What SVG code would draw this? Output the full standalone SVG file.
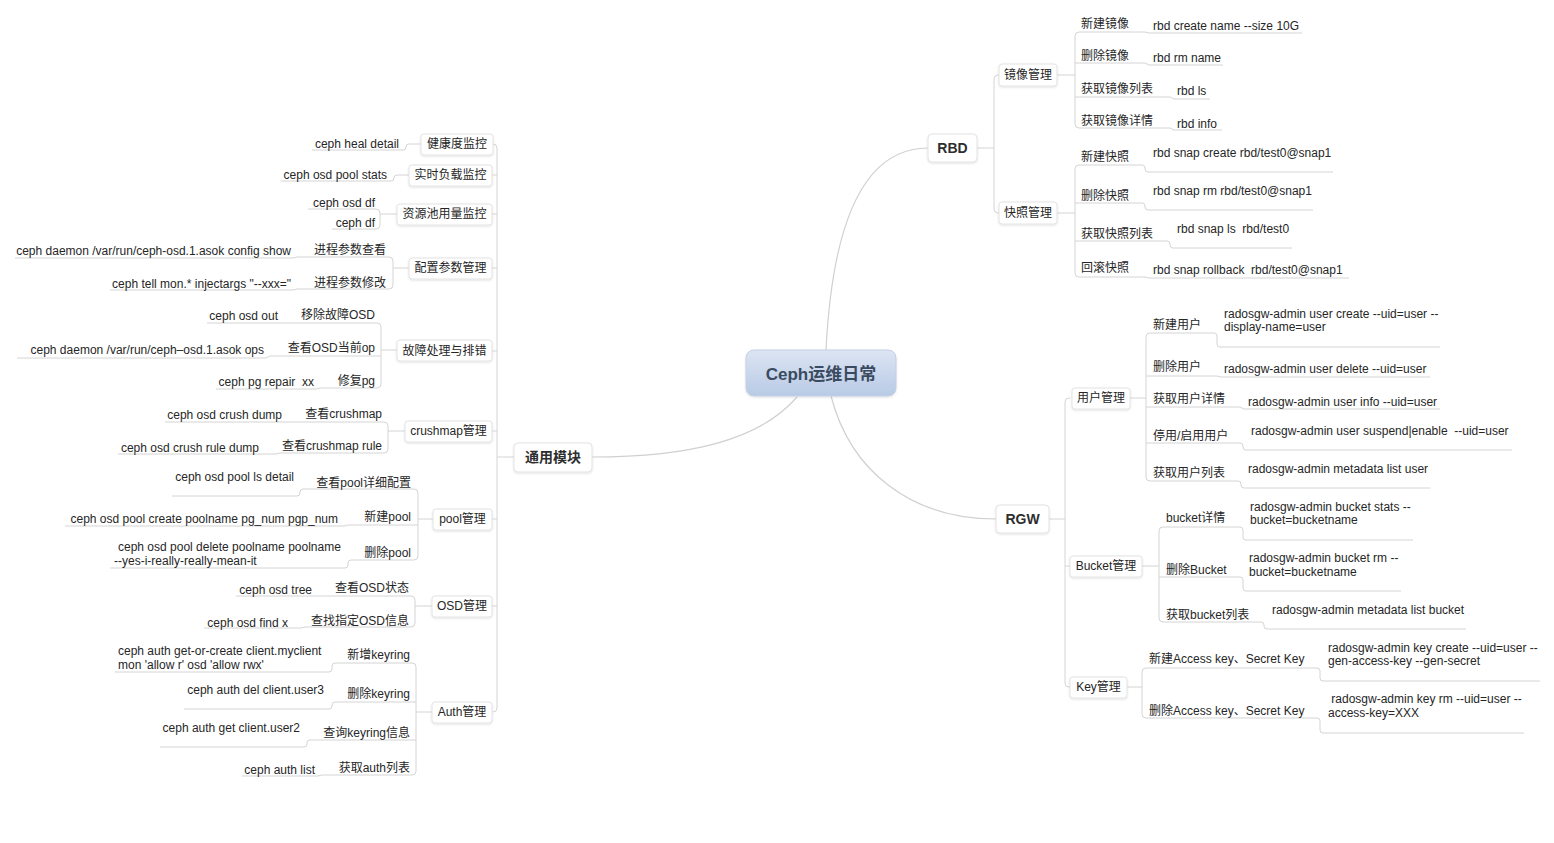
<svg xmlns="http://www.w3.org/2000/svg" width="1554" height="843" viewBox="0 0 1554 843">
<defs>
<style>
text{font-family:"Liberation Sans","Noto Sans CJK SC",sans-serif;font-size:12px;fill:#262626;white-space:pre}
.e{text-anchor:end}
.m{text-anchor:middle}
.b{font-size:14px;font-weight:bold;text-anchor:middle;fill:#2e2e2e}
.box{fill:#fff;stroke:#e3e3e3;stroke-width:1;filter:url(#sh)}
.ln{fill:none;stroke:#d4d4d4;stroke-width:1}
.main{fill:none;stroke:#d0d0d0;stroke-width:1.2}
</style>
<linearGradient id="cg" x1="0" y1="0" x2="0" y2="1">
<stop offset="0" stop-color="#dce5f3"/>
<stop offset="1" stop-color="#b8cae5"/>
</linearGradient>
<filter id="sh" x="-10%" y="-20%" width="120%" height="150%">
<feDropShadow dx="0" dy="1" stdDeviation="1" flood-color="#000" flood-opacity="0.12"/>
</filter>
</defs>
<rect width="1554" height="843" fill="#fff"/>

<g id="connectors">
<path class="main" d="M826,350 C832,230 860,148 928,148"/>
<path class="main" d="M831,396 C850,470 910,519 996,519"/>
<path class="main" d="M797,397 C760,440 690,457 592,457"/>
<!-- RBD trunk -->
<path class="ln" d="M977,148 H994 M999,75 H998 Q994,75 994,79 V209 Q994,213 998,213 H999"/>
<!-- 镜像管理 -->
<path class="ln" d="M1057,75 H1075 M1079,32 Q1075,32 1075,36 V124 Q1075,128 1079,128"/>
<path class="ln" d="M1079,32 H1145 L1149,33 H1302"/>
<path class="ln" d="M1075,63 H1145 L1149,65 H1223"/>
<path class="ln" d="M1075,97 H1170 L1174,99 H1210"/>
<path class="ln" d="M1079,128 H1170 L1174,130 H1222"/>
<!-- 快照管理 -->
<path class="ln" d="M1057,213 H1075 M1079,165 Q1075,165 1075,169 V273 Q1075,277 1079,277"/>
<path class="ln" d="M1079,165 H1142 Q1145,165 1145,168 V169 Q1145,172 1148,172 H1333"/>
<path class="ln" d="M1075,203 H1142 Q1145,203 1145,206 V207 Q1145,210 1148,210 H1313"/>
<path class="ln" d="M1075,241 H1167 Q1170,241 1170,244 V245 Q1170,248 1173,248 H1292"/>
<path class="ln" d="M1079,277 H1145 L1149,278 H1349"/>
<!-- RGW trunk -->
<path class="ln" d="M1049,519 H1065 M1070,398 H1069 Q1065,398 1065,402 V683 Q1065,687 1069,687 H1070 M1065,566 H1070"/>
<!-- 用户管理 -->
<path class="ln" d="M1130,398 H1146 M1150,333 Q1146,333 1146,337 V477 Q1146,481 1150,481"/>
<path class="ln" d="M1150,333 H1214 Q1217,333 1217,336 V344 Q1217,347 1220,347 H1440"/>
<path class="ln" d="M1146,376 H1217 L1221,377 H1430"/>
<path class="ln" d="M1146,407 H1240 L1244,409 H1440"/>
<path class="ln" d="M1146,443 H1240 Q1243,443 1243,446 V447 Q1243,450 1246,450 H1512"/>
<path class="ln" d="M1150,481 H1238 Q1241,481 1241,484 V485 Q1241,488 1244,488 H1430"/>
<!-- Bucket管理 -->
<path class="ln" d="M1142,566 H1159 M1163,527 Q1159,527 1159,531 V618 Q1159,622 1163,622"/>
<path class="ln" d="M1163,527 H1240 Q1243,527 1243,530 V537 Q1243,540 1246,540 H1413"/>
<path class="ln" d="M1159,577 H1240 Q1243,577 1243,580 V588 Q1243,591 1246,591 H1401"/>
<path class="ln" d="M1163,622 H1261 Q1264,622 1264,625 V626 Q1264,629 1267,629 H1466"/>
<!-- Key管理 -->
<path class="ln" d="M1127,687 H1142 M1146,668 Q1142,668 1142,672 V714 Q1142,718 1146,718"/>
<path class="ln" d="M1146,668 H1317 Q1320,668 1320,671 V678 Q1320,681 1323,681 H1540"/>
<path class="ln" d="M1146,718 H1317 Q1320,718 1320,721 V730 Q1320,733 1323,733 H1524"/>
<!-- left trunk -->
<path class="ln" d="M514,457 H497 M493,144 Q497,144 497,148 V708 Q497,712 493,712 M492,175 H497 M492,214 H497 M492,268 H497 M492,351 H497 M492,431 H497 M492,519 H497 M492,606 H497"/>
<!-- 健康度监控 / 实时负载监控 -->
<path class="ln" d="M421,144 H409 Q406,144 406,147 Q406,150 403,150 H312"/>
<path class="ln" d="M409,175 H397 Q394,175 394,178 Q394,181 391,181 H281"/>
<!-- 资源池用量监控 -->
<path class="ln" d="M397,214 H380 M376,209 Q380,209 380,213 V225 Q380,229 376,229"/>
<path class="ln" d="M376,209 H308"/>
<path class="ln" d="M376,229 H332"/>
<!-- 配置参数管理 -->
<path class="ln" d="M409,268 H393 M389,257 Q393,257 393,261 V285 Q393,289 389,289"/>
<path class="ln" d="M389,257 H297 L293,258 H15"/>
<path class="ln" d="M389,289 H297 L293,290 H110"/>
<!-- 故障处理与排错 -->
<path class="ln" d="M397,350 H381 M377,323 Q381,323 381,327 V384 Q381,388 377,388"/>
<path class="ln" d="M377,323 H207"/>
<path class="ln" d="M381,356 H270 L266,358 H17"/>
<path class="ln" d="M377,388 H320 L316,389 H216"/>
<!-- crushmap管理 -->
<path class="ln" d="M405,431 H388 M384,422 Q388,422 388,426 V449 Q388,453 384,453"/>
<path class="ln" d="M384,422 H165"/>
<path class="ln" d="M384,453 H280 L276,454 H118"/>
<!-- pool管理 -->
<path class="ln" d="M433,519 H418 M414,489 Q418,489 418,493 V556 Q418,560 414,560"/>
<path class="ln" d="M414,489 H303 Q300,489 300,492 V493 Q300,496 297,496 H172"/>
<path class="ln" d="M418,525 H348 L344,526 H65"/>
<path class="ln" d="M414,560 H351 Q348,560 348,563 V565 Q348,568 345,568 H110"/>
<!-- OSD管理 -->
<path class="ln" d="M432,606 H415 M411,596 Q415,596 415,600 V623 Q415,627 411,627"/>
<path class="ln" d="M411,596 H236"/>
<path class="ln" d="M411,627 H305 L301,628 H204"/>
<!-- Auth管理 -->
<path class="ln" d="M432,712 H416 M412,663 Q416,663 416,667 V771 Q416,775 412,775"/>
<path class="ln" d="M412,663 H335 Q332,663 332,666 V669 Q332,672 329,672 H115"/>
<path class="ln" d="M416,702 H335 Q332,702 332,705 V706 Q332,709 329,709 H184"/>
<path class="ln" d="M416,740 H310 Q307,740 307,743 V744 Q307,747 304,747 H160"/>
<path class="ln" d="M412,775 H322 L318,776 H242"/>
</g>

<!-- central -->
<g id="root">
<rect x="746" y="350" width="150" height="46" rx="8" fill="url(#cg)" stroke="#c3d0e3" filter="url(#sh)"/>
<text x="821" y="380" style="font-size:17px;font-weight:bold;text-anchor:middle;fill:#3a4a5f">Ceph运维日常</text>
</g>

<!-- main branches -->
<g id="rbd"><rect class="box" x="928" y="134" width="49" height="28" rx="4"/><text class="b" x="952.5" y="153">RBD</text></g>
<g id="rgw"><rect class="box" x="996" y="505" width="53" height="28" rx="4"/><text class="b" x="1022.5" y="524">RGW</text></g>
<g id="common"><rect class="box" x="514" y="443" width="78" height="29" rx="4"/><text class="b" x="553" y="462">通用模块</text></g>

<!-- RBD children -->
<g id="rbd-image"><rect class="box" x="999" y="64" width="58" height="22" rx="3"/><text class="m" x="1028" y="79">镜像管理</text></g>
<g id="rbd-snap"><rect class="box" x="999" y="202" width="58" height="22" rx="3"/><text class="m" x="1028" y="217">快照管理</text></g>

<g id="img-create"><text x="1081" y="28">新建镜像</text><text x="1153" y="30">rbd create name --size 10G</text></g>
<g id="img-rm"><text x="1081" y="60">删除镜像</text><text x="1153" y="62">rbd rm name</text></g>
<g id="img-ls"><text x="1081" y="93">获取镜像列表</text><text x="1177" y="95">rbd ls</text></g>
<g id="img-info"><text x="1081" y="125">获取镜像详情</text><text x="1177" y="128">rbd info</text></g>

<g id="snap-create"><text x="1081" y="161">新建快照</text><text x="1153" y="157">rbd snap create rbd/test0@snap1</text></g>
<g id="snap-rm"><text x="1081" y="200">删除快照</text><text x="1153" y="195">rbd snap rm rbd/test0@snap1</text></g>
<g id="snap-ls"><text x="1081" y="238">获取快照列表</text><text x="1177" y="233">rbd snap ls  rbd/test0</text></g>
<g id="snap-rollback"><text x="1081" y="272">回滚快照</text><text x="1153" y="274">rbd snap rollback  rbd/test0@snap1</text></g>

<!-- RGW children -->
<g id="rgw-user"><rect class="box" x="1072" y="388" width="58" height="21" rx="3"/><text class="m" x="1101" y="402">用户管理</text></g>
<g id="rgw-bucket"><rect class="box" x="1070" y="556" width="72" height="21" rx="3"/><text class="m" x="1106" y="570">Bucket管理</text></g>
<g id="rgw-key"><rect class="box" x="1070" y="677" width="57" height="21" rx="3"/><text class="m" x="1098.5" y="691">Key管理</text></g>

<g id="user-create"><text x="1153" y="329">新建用户</text><text x="1224" y="318">radosgw-admin user create --uid=user --</text><text x="1224" y="331">display-name=user</text></g>
<g id="user-delete"><text x="1153" y="371">删除用户</text><text x="1224" y="373">radosgw-admin user delete --uid=user</text></g>
<g id="user-info"><text x="1153" y="403">获取用户详情</text><text x="1248" y="406">radosgw-admin user info --uid=user</text></g>
<g id="user-suspend"><text x="1153" y="440">停用/启用用户</text><text x="1251" y="435">radosgw-admin user suspend|enable  --uid=user</text></g>
<g id="user-list"><text x="1153" y="477">获取用户列表</text><text x="1248" y="473">radosgw-admin metadata list user</text></g>

<g id="bucket-stats"><text x="1166" y="522">bucket详情</text><text x="1250" y="511">radosgw-admin bucket stats --</text><text x="1250" y="524">bucket=bucketname</text></g>
<g id="bucket-rm"><text x="1166" y="574">删除Bucket</text><text x="1249" y="562">radosgw-admin bucket rm --</text><text x="1249" y="576">bucket=bucketname</text></g>
<g id="bucket-list"><text x="1166" y="619">获取bucket列表</text><text x="1272" y="614">radosgw-admin metadata list bucket</text></g>

<g id="key-create"><text x="1149" y="663">新建Access key、Secret Key</text><text x="1328" y="652">radosgw-admin key create --uid=user --</text><text x="1328" y="665">gen-access-key --gen-secret</text></g>
<g id="key-rm"><text x="1149" y="715">删除Access key、Secret Key</text><text x="1328" y="703"> radosgw-admin key rm --uid=user --</text><text x="1328" y="717">access-key=XXX</text></g>

<!-- common children -->
<g id="health"><rect class="box" x="421" y="134" width="72" height="21" rx="3"/><text class="m" x="457" y="148">健康度监控</text><text class="e" x="399" y="148">ceph heal detail</text></g>
<g id="load"><rect class="box" x="409" y="165" width="83" height="21" rx="3"/><text class="m" x="450.5" y="179">实时负载监控</text><text class="e" x="387" y="179">ceph osd pool stats</text></g>
<g id="pool-usage"><rect class="box" x="397" y="204" width="95" height="21" rx="3"/><text class="m" x="444.5" y="218">资源池用量监控</text></g>
<g id="osd-df"><text class="e" x="375" y="207">ceph osd df</text></g>
<g id="df"><text class="e" x="375" y="227">ceph df</text></g>

<g id="config"><rect class="box" x="409" y="258" width="83" height="21" rx="3"/><text class="m" x="450.5" y="272">配置参数管理</text></g>
<g id="config-show"><text class="e" x="386" y="254">进程参数查看</text><text class="e" x="291" y="255">ceph daemon /var/run/ceph-osd.1.asok config show</text></g>
<g id="config-set"><text class="e" x="386" y="287">进程参数修改</text><text class="e" x="291" y="288">ceph tell mon.* injectargs "--xxx="</text></g>

<g id="trouble"><rect class="box" x="397" y="340" width="95" height="21" rx="3"/><text class="m" x="444.5" y="355">故障处理与排错</text></g>
<g id="osd-out"><text class="e" x="375" y="319">移除故障OSD</text><text class="e" x="278" y="320">ceph osd out</text></g>
<g id="osd-ops"><text class="e" x="375" y="352">查看OSD当前op</text><text class="e" x="264" y="354">ceph daemon /var/run/ceph–osd.1.asok ops</text></g>
<g id="pg-repair"><text class="e" x="375" y="385">修复pg</text><text class="e" x="314" y="386">ceph pg repair  xx</text></g>

<g id="crushmap"><rect class="box" x="405" y="421" width="87" height="21" rx="3"/><text class="m" x="448.5" y="435">crushmap管理</text></g>
<g id="crush-dump"><text class="e" x="382" y="418">查看crushmap</text><text class="e" x="282" y="419">ceph osd crush dump</text></g>
<g id="crush-rule"><text class="e" x="382" y="450">查看crushmap rule</text><text class="e" x="259" y="452">ceph osd crush rule dump</text></g>

<g id="pool"><rect class="box" x="433" y="509" width="59" height="21" rx="3"/><text class="m" x="462.5" y="523">pool管理</text></g>
<g id="pool-detail"><text class="e" x="411" y="487">查看pool详细配置</text><text class="e" x="294" y="481">ceph osd pool ls detail</text></g>
<g id="pool-create"><text class="e" x="411" y="521">新建pool</text><text class="e" x="338" y="523">ceph osd pool create poolname pg_num pgp_num</text></g>
<g id="pool-delete"><text class="e" x="411" y="557">删除pool</text><text x="118" y="551">ceph osd pool delete poolname poolname</text><text x="114" y="565">--yes-i-really-really-mean-it</text></g>

<g id="osd"><rect class="box" x="432" y="596" width="60" height="21" rx="3"/><text class="m" x="462" y="610">OSD管理</text></g>
<g id="osd-tree"><text class="e" x="409" y="592">查看OSD状态</text><text class="e" x="312" y="594">ceph osd tree</text></g>
<g id="osd-find"><text class="e" x="409" y="625">查找指定OSD信息</text><text class="e" x="288" y="627">ceph osd find x</text></g>

<g id="auth"><rect class="box" x="432" y="702" width="60" height="21" rx="3"/><text class="m" x="462" y="716">Auth管理</text></g>
<g id="auth-add"><text class="e" x="410" y="659">新增keyring</text><text x="118" y="655">ceph auth get-or-create client.myclient</text><text x="118" y="669">mon 'allow r' osd 'allow rwx'</text></g>
<g id="auth-del"><text class="e" x="410" y="698">删除keyring</text><text class="e" x="324" y="694">ceph auth del client.user3</text></g>
<g id="auth-get"><text class="e" x="410" y="737">查询keyring信息</text><text class="e" x="300" y="732">ceph auth get client.user2</text></g>
<g id="auth-list"><text class="e" x="410" y="772">获取auth列表</text><text class="e" x="315" y="774">ceph auth list</text></g>
</svg>
